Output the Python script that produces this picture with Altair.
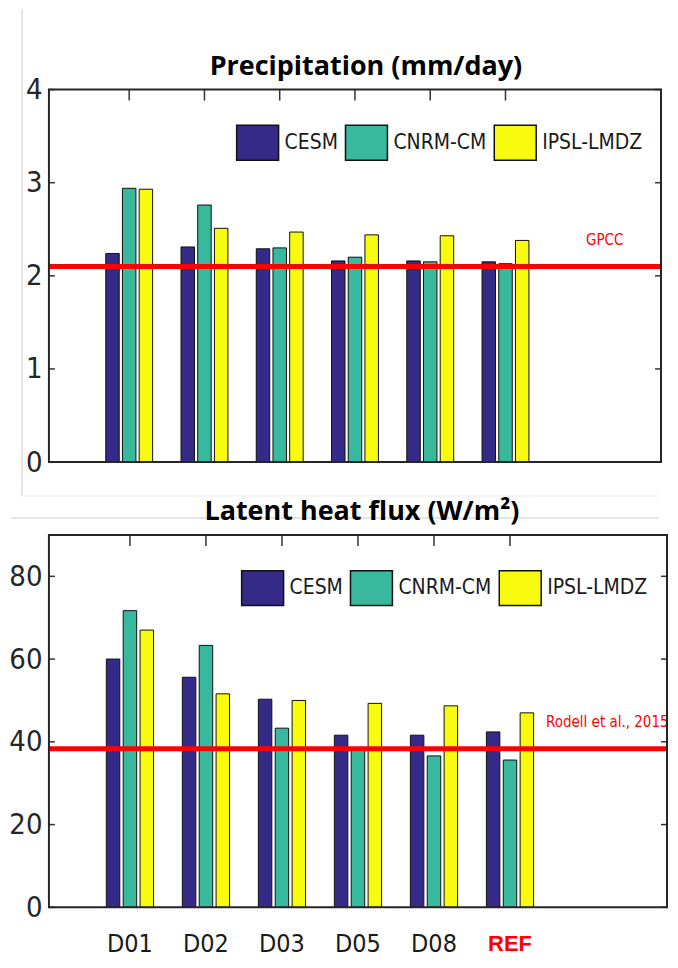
import altair as alt
import pandas as pd

# ---------------- data ----------------
categories = ["D01", "D02", "D03", "D05", "D08", "REF"]
models = ["CESM", "CNRM-CM", "IPSL-LMDZ"]
model_colors = ["#352A87", "#38B99E", "#F9FB0E"]

precip_cesm = [2.24, 2.31, 2.29, 2.16, 2.16, 2.15]
precip_cnrm = [2.94, 2.76, 2.30, 2.20, 2.15, 2.13]
precip_ipsl = [2.93, 2.51, 2.47, 2.44, 2.43, 2.38]

lhf_cesm = [60.0, 55.6, 50.3, 41.6, 41.6, 42.4]
lhf_cnrm = [71.7, 63.3, 43.3, 38.3, 36.6, 35.6]
lhf_ipsl = [67.0, 51.6, 50.0, 49.3, 48.7, 47.0]

gpcc_value = 2.10
gpcc_label = "GPCC"
rodell_value = 38.3
rodell_label = "Rodell et al., 2015"

precip_ticks = [0, 1, 2, 3, 4]
lhf_ticks = [0, 20, 40, 60, 80]

precip_title = "Precipitation (mm/day)"
lhf_title = "Latent heat flux (W/m²)"

# ---------------- style ----------------
NARROW = "Liberation Sans Narrow, DejaVu Sans Condensed, Arial Narrow, sans-serif"
GROUP_OFFSET = 0.222
BAR_W = 13.5
X_DOMAIN = [0, 8]
RECT_PATH = "M-1,-0.833H1V0.833H-1Z"
SEAM = "#cccccc"


def bars_df(series):
    rows = []
    for m_i, (m, vals) in enumerate(zip(models, series)):
        for c_i, (c, v) in enumerate(zip(categories, vals)):
            rows.append({"category": c, "model": m, "value": v,
                         "pos": c_i + 1 + (m_i - 1) * GROUP_OFFSET})
    return pd.DataFrame(rows)


def panel(series, ref_value, ref_label, ref_label_x, ticks, ydomain, title,
          W, H, legend_x, title_dx, is_bottom):
    df = bars_df(series)
    xs = alt.Scale(domain=X_DOMAIN, nice=False, zero=False)
    ys = alt.Scale(domain=ydomain, nice=False)
    yaxis = alt.Axis(values=ticks, labelFont=NARROW, labelFontSize=29,
                     labelColor="#262626", labelPadding=7, ticks=False,
                     domain=False, grid=False, title=None,
                     minExtent=36, labelFlush=False,
                     labelOverlap=False, labelBound=False)

    bars = alt.Chart(df).mark_bar(size=BAR_W, stroke="#111111", strokeWidth=1,
                                  orient="vertical").encode(
        x=alt.X("pos:Q", scale=xs, axis=None),
        y=alt.Y("value:Q", scale=ys, axis=yaxis),
        color=alt.Color("model:N",
                        scale=alt.Scale(domain=models, range=model_colors),
                        legend=alt.Legend(orient="none", legendX=legend_x, legendY=31,
                                          direction="horizontal", title=None,
                                          symbolType=RECT_PATH, symbolSize=1764,
                                          symbolStrokeColor="#111111",
                                          symbolStrokeWidth=1.5, symbolOpacity=1,
                                          labelFont=NARROW, labelFontSize=21,
                                          labelColor="#1a1a1a", labelOffset=5,
                                          columnPadding=4, padding=0)),
    )

    tick_y = pd.DataFrame({"v": ticks})
    left_ticks = alt.Chart(tick_y).mark_rule(color="#333333", strokeWidth=1.5).encode(
        y=alt.Y("v:Q", scale=ys, axis=yaxis), x=alt.value(0), x2=alt.value(6))
    right_ticks = alt.Chart(tick_y).mark_rule(color="#333333", strokeWidth=1.5).encode(
        y=alt.Y("v:Q", scale=ys, axis=yaxis), x=alt.value(W - 6), x2=alt.value(W))
    tick_x = pd.DataFrame({"p": list(range(1, len(categories) + 1))})
    top_ticks = alt.Chart(tick_x).mark_rule(color="#333333", strokeWidth=1.5).encode(
        x=alt.X("p:Q", scale=xs, axis=None), y=alt.value(0), y2=alt.value(11))

    ref_df = pd.DataFrame({"v": [ref_value], "label": [ref_label], "lx": [ref_label_x],
                           "title": [title]})
    ref_line = alt.Chart(ref_df).mark_rule(color="#FF0000", strokeWidth=5).encode(
        y=alt.Y("v:Q", scale=ys, axis=yaxis), x=alt.value(0), x2=alt.value(W))
    ref_text = alt.Chart(ref_df).mark_text(color="#FF0000", font=NARROW, fontSize=15,
                                           align="left", baseline="middle", dy=-27).encode(
        x=alt.X("lx:Q", scale=xs, axis=None), y=alt.Y("v:Q", scale=ys, axis=yaxis),
        text="label:N")

    frame = alt.Chart(ref_df).mark_rect(fill=None, stroke="#262626", strokeWidth=2).encode(
        x=alt.value(0), x2=alt.value(W), y=alt.value(0), y2=alt.value(H))

    title_mark = alt.Chart(ref_df).mark_text(
        font="Open Sans", fontSize=27, fontWeight="bold", color="black",
        align="center", baseline="alphabetic").encode(
        x=alt.value(W / 2 + title_dx), y=alt.value(-15), text="title:N")

    layers = []
    if is_bottom:
        seam = alt.Chart(ref_df).mark_rule(color=SEAM, strokeWidth=1).encode(
            x=alt.value(-38), x2=alt.value(W - 8), y=alt.value(-17))
        layers.append(seam)
    else:
        seam = alt.Chart(ref_df).mark_rule(color=SEAM, strokeWidth=1).encode(
            x=alt.value(-27), y=alt.value(-80), y2=alt.value(H + 34))
        seam2 = alt.Chart(ref_df).mark_rule(color="#eeeeee", strokeWidth=1).encode(
            x=alt.value(-27), x2=alt.value(W - 2), y=alt.value(H + 34))
        layers += [seam, seam2]

    layers += [bars, left_ticks, right_ticks, top_ticks, ref_line, ref_text, frame,
               title_mark]

    if is_bottom:
        lab_df = pd.DataFrame({"category": categories,
                               "p": list(range(1, len(categories) + 1))})
        xl = alt.Chart(lab_df).transform_filter("datum.category != 'REF'").mark_text(
            font=NARROW, fontSize=25, color="#1a1a1a", baseline="middle").encode(
            x=alt.X("p:Q", scale=xs, axis=None), y=alt.value(H + 37), text="category:N")
        xr = alt.Chart(lab_df).transform_filter("datum.category == 'REF'").mark_text(
            font="Liberation Sans, Arial, sans-serif", fontSize=22, fontWeight="bold",
            color="#FF0000", baseline="middle").encode(
            x=alt.X("p:Q", scale=xs, axis=None), y=alt.value(H + 37), text="category:N")
        layers += [xl, xr]

    return alt.layer(*layers).properties(width=W, height=H)


top = panel([precip_cesm, precip_cnrm, precip_ipsl], gpcc_value, gpcc_label, 7.07,
            precip_ticks, [0, 4], precip_title, 613, 373, 187, 11, False)
bottom = panel([lhf_cesm, lhf_cnrm, lhf_ipsl], rodell_value, rodell_label, 6.475,
               lhf_ticks, [0, 90], lhf_title, 619, 373, 192, 4, True)

chart = alt.concat(top, bottom, columns=1, spacing=1).properties(
    padding={"left": 0, "top": 0, "right": 0, "bottom": 0}
).resolve_scale(color="independent").resolve_legend(color="independent").configure(
    background="white"
).configure_view(stroke=None, strokeWidth=0)

chart.save("out.html", embed_options={"renderer": "svg", "actions": False})
